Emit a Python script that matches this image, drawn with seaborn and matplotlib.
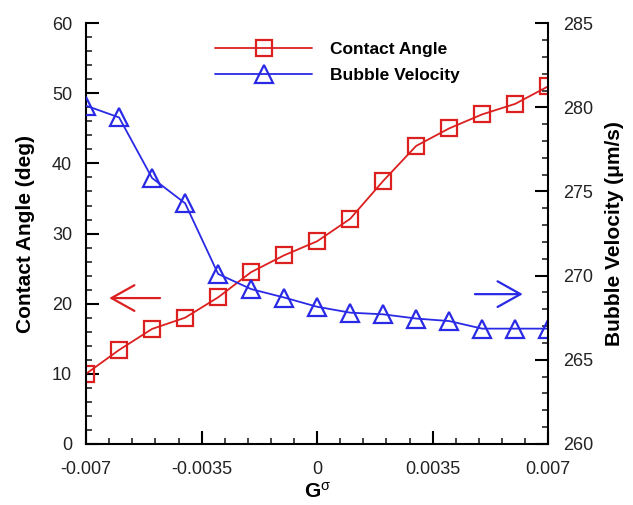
import numpy as np
import pandas as pd
import matplotlib
matplotlib.use("Agg")
import matplotlib.pyplot as plt
from matplotlib.ticker import MultipleLocator, FixedLocator
import seaborn as sns

# ---- data ----
g_sigma = [-0.007, -0.006, -0.005, -0.004, -0.003, -0.002, -0.001, 0.0,
           0.001, 0.002, 0.003, 0.004, 0.005, 0.006, 0.007]
contact_angle = [10.0, 13.4, 16.4, 18.0, 20.9, 24.5, 26.9, 28.9,
                 32.1, 37.5, 42.5, 45.0, 47.0, 48.5, 51.0]
bubble_velocity = [280.1, 279.4, 275.8, 274.3, 270.1, 269.2, 268.7, 268.15,
                   267.8, 267.7, 267.45, 267.3, 266.85, 266.85, 266.85]
x_ticks = [-0.007, -0.0035, 0.0, 0.0035, 0.007]
x_tick_labels = ["-0.007", "-0.0035", "0", "0.0035", "0.007"]
series_names = ["Contact Angle", "Bubble Velocity"]

df = pd.DataFrame({"G": g_sigma, "angle": contact_angle, "vel": bubble_velocity})

sns.set_style("white")
plt.rcParams["font.family"] = ["Liberation Sans", "DejaVu Sans"]
plt.rcParams["mathtext.fontset"] = "custom"
plt.rcParams["mathtext.rm"] = "Liberation Sans"
plt.rcParams["mathtext.bf"] = "Liberation Sans:bold"
plt.rcParams["mathtext.it"] = "Liberation Sans:italic"
plt.rcParams["text.color"] = "black"
plt.rcParams["axes.labelcolor"] = "black"

RED = "#dc2020"
BLUE = "#2a2ae6"
TICKC = "#222222"

fig = plt.figure(figsize=(6.33, 5.05), dpi=100)
ax = fig.add_axes([0.136, 0.121, 0.730, 0.833])
ax2 = ax.twinx()

sns.lineplot(data=df, x="G", y="angle", ax=ax, color=RED, lw=1.3,
             marker="s", markersize=11, markerfacecolor="none",
             markeredgecolor=RED, markeredgewidth=1.6, label=series_names[0],
             legend=False)
sns.lineplot(data=df, x="G", y="vel", ax=ax2, color=BLUE, lw=1.3,
             marker="^", markersize=13, markerfacecolor="none",
             markeredgecolor=BLUE, markeredgewidth=1.6, label=series_names[1],
             legend=False)

ax.set_xlim(-0.007, 0.007)
ax.set_ylim(0, 60)
ax2.set_ylim(260, 285)

ax.set_xticks(x_ticks)
ax.set_xticklabels(x_tick_labels)
ax.xaxis.set_minor_locator(FixedLocator(np.arange(-0.007, 0.00701, 0.0007)))
ax.yaxis.set_major_locator(MultipleLocator(10))
ax.yaxis.set_minor_locator(MultipleLocator(2))
ax2.yaxis.set_major_locator(MultipleLocator(5))
ax2.yaxis.set_minor_locator(MultipleLocator(1))

for a in (ax, ax2):
    a.spines["top"].set_visible(False)
    for s in ("left", "right", "bottom"):
        a.spines[s].set_linewidth(1.5)
        a.spines[s].set_color("black")
    a.tick_params(which="major", direction="in", length=9.5, width=1.5,
                  labelsize=13, pad=10, colors="black", labelcolor=TICKC)
    a.tick_params(which="minor", direction="in", length=4.5, width=1.2)
    a.set_facecolor("none")
ax.tick_params(axis="x", which="major", pad=12)
ax.tick_params(axis="y", which="both", left=True, right=False)
ax.tick_params(axis="x", which="both", bottom=True, top=False)
ax2.tick_params(axis="y", which="both", right=True, left=False)
ax2.tick_params(axis="y", which="major", pad=11)
ax.spines["right"].set_visible(False)
ax2.spines["left"].set_visible(False)
ax2.spines["bottom"].set_visible(False)

ax.set_xlabel(r"$\mathbf{G}^{\mathrm{σ}}$", fontsize=15, labelpad=3)
ax.set_ylabel("Contact Angle (deg)", fontsize=15, fontweight="bold", labelpad=12)
ax2.set_ylabel("Bubble Velocity (μm/s)", fontsize=15, fontweight="bold",
               labelpad=8)

# direction arrows
arrow_style = "->,head_length=0.75,head_width=0.42"
ax.annotate("", xy=(-0.0063, 20.8), xytext=(-0.00476, 20.8),
            arrowprops=dict(arrowstyle=arrow_style, mutation_scale=22,
                            color=RED, lw=1.6, shrinkA=0, shrinkB=0))
ax2.annotate("", xy=(0.00623, 268.9), xytext=(0.00478, 268.9),
             arrowprops=dict(arrowstyle=arrow_style, mutation_scale=22,
                             color=BLUE, lw=1.6, shrinkA=0, shrinkB=0))

h1, l1 = ax.get_legend_handles_labels()
h2, l2 = ax2.get_legend_handles_labels()
leg = ax2.legend(h1 + h2, l1 + l2, loc="upper left",
                 bbox_to_anchor=(0.245, 0.992), frameon=False, numpoints=1,
                 handlelength=5.6, handletextpad=1.0, labelspacing=0.6,
                 prop={"weight": "bold", "size": 12.5})

fig.savefig("out.png", dpi=100)
